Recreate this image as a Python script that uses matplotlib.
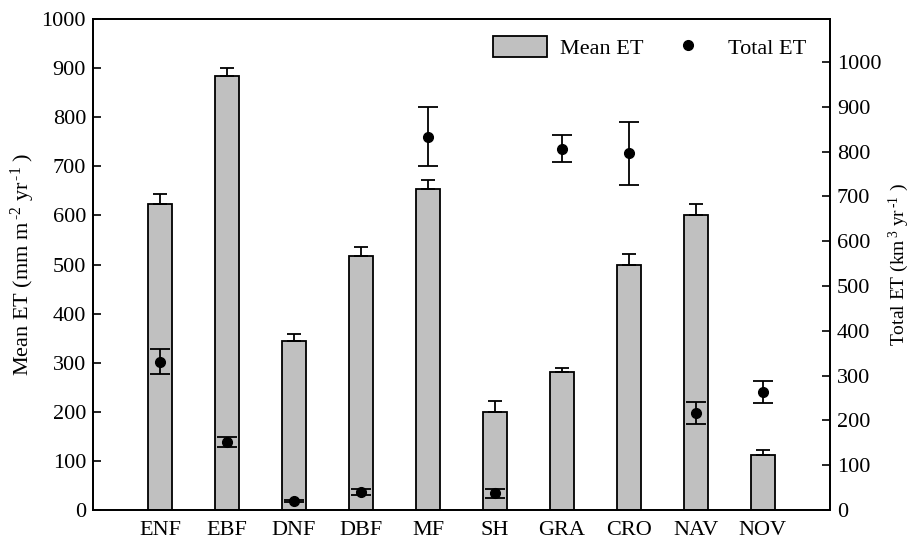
import numpy as np
import matplotlib.pyplot as plt
from matplotlib.lines import Line2D

plt.rcParams['font.family'] = ['Liberation Serif', 'DejaVu Serif']
plt.rcParams['mathtext.fontset'] = 'custom'
plt.rcParams['mathtext.rm'] = 'Liberation Serif'
plt.rcParams['mathtext.it'] = 'Liberation Serif'

# Land cover classes
classes = ['ENF', 'EBF', 'DNF', 'DBF', 'MF', 'SH', 'GRA', 'CRO', 'NAV', 'NOV']

# Mean ET per unit area (mm m-2 yr-1) and its upper error
mean_et = [623, 884, 344, 518, 653, 200, 281, 499, 601, 113]
mean_err = [20, 17, 14, 17, 20, 23, 9, 22, 22, 9]

# Total ET (km3 yr-1) and its error
total_et = [331, 152, 20, 41, 833, 37, 807, 796, 216, 263]
total_err = [28, 12, 3, 7, 66, 10, 30, 70, 25, 24]

x = np.arange(len(classes))
fs = 16

fig = plt.figure(figsize=(9.16, 5.45), dpi=100)
ax = fig.add_axes([0.1015, 0.0642, 0.8045, 0.9008])

bars = ax.bar(x, mean_et, width=0.36, color='#c0c0c0', edgecolor='black', linewidth=1.3,
              yerr=[np.zeros(len(mean_err)), mean_err], capsize=5,
              error_kw=dict(elinewidth=1.3, capthick=1.3, ecolor='black'))
ax.set_xlim(-1, 10)
ax.set_ylim(0, 1000)
ax.set_yticks(np.arange(0, 1001, 100))
ax.set_xticks(x)
ax.set_xticklabels(classes)
ax.tick_params(axis='y', direction='in', length=6, width=1.2, labelsize=fs, pad=5)
ax.tick_params(axis='x', length=0, labelsize=fs, pad=8)
ax.set_ylabel(r'Mean ET (mm m$^{\,\text{-2}}$ yr$^{\,\text{-1}}$ )', fontsize=fs, labelpad=3)

ax2 = ax.twinx()
ax2.errorbar(x, total_et, yerr=total_err, fmt='o', color='black', markersize=7,
             elinewidth=1.3, capsize=7.5, capthick=1.3)
ax2.set_ylim(0, 1096)
ax2.set_yticks(np.arange(0, 1001, 100))
ax2.tick_params(axis='y', direction='in', length=6, width=1.2, labelsize=fs, pad=5)
ax2.set_ylabel(r'Total ET (km$^{\,3}$ yr$^{\,\text{-1}}$ )', fontsize=14, labelpad=4)

for a in (ax, ax2):
    for s in a.spines.values():
        s.set_linewidth(1.3)

dot = Line2D([], [], marker='o', linestyle='none', color='black', markersize=7)
ax2.legend([bars.patches[0], dot], ['Mean ET', 'Total ET'], loc='upper right', ncol=2,
           frameon=False, fontsize=fs, handlelength=2.4, handleheight=1.1,
           handletextpad=0.6, columnspacing=0.8, bbox_to_anchor=(0.995, 1.006))

fig.savefig('out.png', dpi=100)
